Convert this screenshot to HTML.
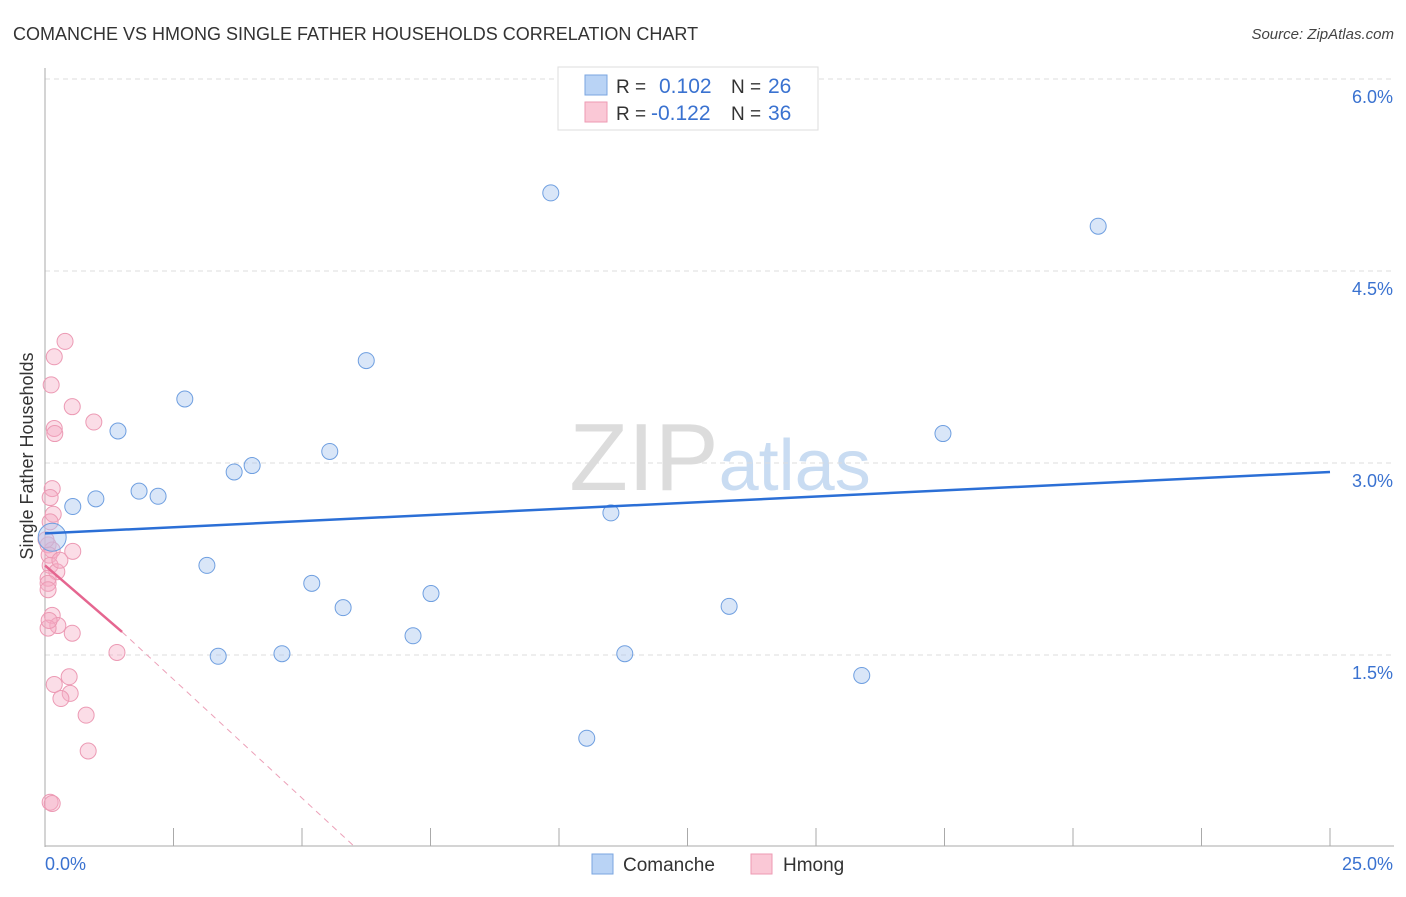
<!DOCTYPE html>
<html><head><meta charset="utf-8">
<style>
body{margin:0;background:#fff;font-family:"Liberation Sans",sans-serif;}
svg text{font-family:"Liberation Sans",sans-serif;}
</style></head>
<body>
<svg id="chart" width="1406" height="892" viewBox="0 0 1406 892" xmlns="http://www.w3.org/2000/svg">
<text x="13" y="40" font-size="18" fill="#333">COMANCHE VS HMONG SINGLE FATHER HOUSEHOLDS CORRELATION CHART</text>
<text x="1394" y="39" font-size="15" fill="#444" text-anchor="end" font-style="italic">Source: ZipAtlas.com</text>
<text x="720" y="490" font-size="96" text-anchor="middle" fill="#dcdcdc" font-family="Liberation Serif"><tspan>ZIP</tspan><tspan fill="#c9dcf2" font-family="Liberation Sans" font-size="72">atlas</tspan></text>
<g id="grid"></g>
<g id="axes"></g>
<g id="marks"></g>
<text transform="translate(33,456) rotate(-90)" font-size="18" fill="#333" text-anchor="middle">Single Father Households</text>
<g>
<rect x="558" y="67" width="260" height="63" fill="#fff" stroke="#ddd"/>
<rect x="585" y="75" width="22" height="20" fill="#b9d3f5" stroke="#7aa6e0"/>
<rect x="585" y="102" width="22" height="20" fill="#fac8d6" stroke="#ee9ab3"/>
<text x="616" y="93" font-size="19" fill="#333">R = </text><text x="659" y="93" font-size="21" fill="#3a72d0">0.102</text>
<text x="731" y="93" font-size="19" fill="#333">N = </text><text x="768" y="93" font-size="21" fill="#3a72d0">26</text>
<text x="616" y="120" font-size="19" fill="#333">R = </text><text x="651" y="120" font-size="21" fill="#3a72d0">-0.122</text>
<text x="731" y="120" font-size="19" fill="#333">N = </text><text x="768" y="120" font-size="21" fill="#3a72d0">36</text>
</g>
<g>
<rect x="592" y="854" width="21" height="20" fill="#b9d3f5" stroke="#7aa6e0"/>
<text x="623" y="871" font-size="19" fill="#333">Comanche</text>
<rect x="751" y="854" width="21" height="20" fill="#fac8d6" stroke="#ee9ab3"/>
<text x="783" y="871" font-size="19" fill="#333">Hmong</text>
</g>
</svg>
<script>
const xTicks=[0,2.5,5,7.5,10,12.5,15,17.5,20,22.5,25];
const yTicks=[1.5,3.0,4.5,6.0];
const yTickLabels=["1.5%","3.0%","4.5%","6.0%"];
const comancheX=[9.84,20.49,6.25,2.72,1.42,17.47,5.54,4.03,3.68,1.83,2.20,0.99,0.54,11.01,0.14,3.15,5.19,7.51,5.80,13.31,7.16,3.37,4.61,11.28,15.89,10.54];
const comancheY=[5.11,4.85,3.80,3.50,3.25,3.23,3.09,2.98,2.93,2.78,2.74,2.72,2.66,2.61,2.42,2.20,2.06,1.98,1.87,1.88,1.65,1.49,1.51,1.51,1.34,0.85];
const hmongX=[0.39,0.18,0.12,0.53,0.95,0.18,0.19,0.14,0.10,0.16,0.10,0.06,0.14,0.54,0.08,0.10,0.23,0.06,0.06,0.06,0.14,0.25,0.06,0.53,1.40,0.47,0.18,0.49,0.31,0.80,0.84,0.10,0.14,0.02,0.29,0.08];
const hmongY=[3.95,3.83,3.61,3.44,3.32,3.27,3.23,2.80,2.73,2.60,2.54,2.36,2.32,2.31,2.28,2.20,2.15,2.10,2.06,2.01,1.81,1.73,1.71,1.67,1.52,1.33,1.27,1.20,1.16,1.03,0.75,0.35,0.34,2.40,2.24,1.77];
const comancheTrend=[0,2.45,25,2.93];
const hmongTrend=[0,2.20,1.5,1.68,6.03,0];
const X=v=>45+v*(1285/25);
const Y=v=>847-v*128;
const NS="http://www.w3.org/2000/svg";
function mk(parent,tag,attrs){const e=document.createElementNS(NS,tag);for(const k in attrs)e.setAttribute(k,attrs[k]);document.getElementById(parent).appendChild(e);return e;}
yTicks.forEach((t,i)=>{
 const g=mk('grid','line',{x1:45,x2:1394,y1:Y(t),y2:Y(t),stroke:'#ddd','stroke-dasharray':'5,4'});
 
 
 const l=mk('grid','text',{x:1393,y:Y(t)+24,'font-size':18,fill:'#3a72d0','text-anchor':'end'});
 l.textContent=yTickLabels[i];
 
 
});
const ax=mk('axes','line',{x1:45,x2:45,y1:68,y2:847,stroke:'#aaa'});


const bx=mk('axes','line',{x1:45,x2:1394,y1:846,y2:846,stroke:'#aaa'});


xTicks.forEach((t,i)=>{if(i===0)return;
 const tk=mk('axes','line',{x1:X(t),x2:X(t),y1:828,y2:846,stroke:'#aaa'});
 
 
});
const xl0=mk('axes','text',{x:45,y:870,'font-size':18,fill:'#3a72d0'});xl0.textContent=xTicks[0].toFixed(1)+'%';


const xl1=mk('axes','text',{x:1393,y:870,'font-size':18,fill:'#3a72d0','text-anchor':'end'});xl1.textContent=xTicks[xTicks.length-1].toFixed(1)+'%';


hmongX.forEach((v,i)=>{
 const c=mk('marks','circle',{cx:X(v),cy:Y(hmongY[i]),r:8,fill:'rgba(246,170,195,0.4)',stroke:'#ec9ab4','stroke-width':1});
 
 
});
comancheX.forEach((v,i)=>{
 const big=i===14;
 const c=mk('marks','circle',{cx:X(v),cy:Y(comancheY[i]),r:big?14:8,fill:'rgba(170,200,240,0.45)',stroke:'#6f9fe0','stroke-width':1});
 
 
});
const t1=mk('marks','line',{x1:X(comancheTrend[0]),y1:Y(comancheTrend[1]),x2:X(comancheTrend[2]),y2:Y(comancheTrend[3]),stroke:'#2b6fd6','stroke-width':2.5});


const t2=mk('marks','line',{x1:X(hmongTrend[0]),y1:Y(hmongTrend[1]),x2:X(hmongTrend[2]),y2:Y(hmongTrend[3]),stroke:'#e56690','stroke-width':2.5});


const t3=mk('marks','line',{x1:X(hmongTrend[2]),y1:Y(hmongTrend[3]),x2:X(hmongTrend[4]),y2:Y(hmongTrend[5]),stroke:'#eca0b8','stroke-width':1,'stroke-dasharray':'6,5'});


</script>
</body></html>
